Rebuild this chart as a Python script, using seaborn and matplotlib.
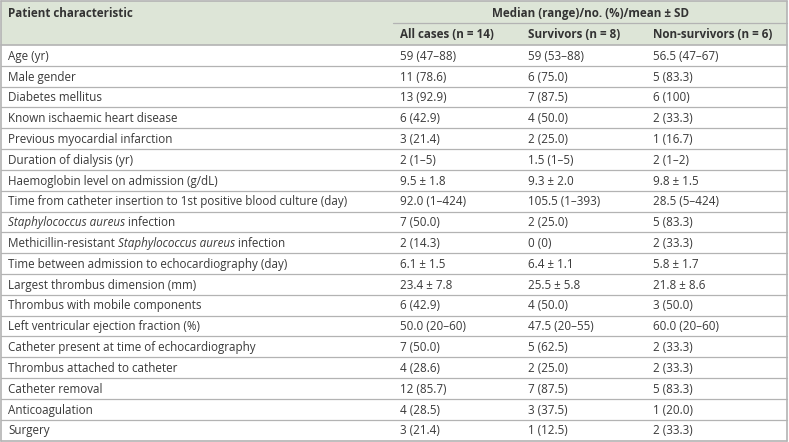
import matplotlib
matplotlib.use("Agg")
import matplotlib.pyplot as plt
import seaborn as sns
from matplotlib.patches import Rectangle

# ---------------- data ----------------
characteristics = [
    "Age (yr)",
    "Male gender",
    "Diabetes mellitus",
    "Known ischaemic heart disease",
    "Previous myocardial infarction",
    "Duration of dialysis (yr)",
    "Haemoglobin level on admission (g/dL)",
    "Time from catheter insertion to 1st positive blood culture (day)",
    "*Staphylococcus aureus* infection",
    "Methicillin-resistant *Staphylococcus aureus* infection",
    "Time between admission to echocardiography (day)",
    "Largest thrombus dimension (mm)",
    "Thrombus with mobile components",
    "Left ventricular ejection fraction (%)",
    "Catheter present at time of echocardiography",
    "Thrombus attached to catheter",
    "Catheter removal",
    "Anticoagulation",
    "Surgery",
]
all_cases = ["59 (47\u201388)", "11 (78.6)", "13 (92.9)", "6 (42.9)", "3 (21.4)",
             "2 (1\u20135)", "9.5 \u00b1 1.8", "92.0 (1\u2013424)", "7 (50.0)",
             "2 (14.3)", "6.1 \u00b1 1.5", "23.4 \u00b1 7.8", "6 (42.9)",
             "50.0 (20\u201360)", "7 (50.0)", "4 (28.6)", "12 (85.7)",
             "4 (28.5)", "3 (21.4)"]
survivors = ["59 (53\u201388)", "6 (75.0)", "7 (87.5)", "4 (50.0)", "2 (25.0)",
             "1.5 (1\u20135)", "9.3 \u00b1 2.0", "105.5 (1\u2013393)", "2 (25.0)",
             "0 (0)", "6.4 \u00b1 1.1", "25.5 \u00b1 5.8", "4 (50.0)",
             "47.5 (20\u201355)", "5 (62.5)", "2 (25.0)", "7 (87.5)",
             "3 (37.5)", "1 (12.5)"]
non_survivors = ["56.5 (47\u201367)", "5 (83.3)", "6 (100)", "2 (33.3)", "1 (16.7)",
                 "2 (1\u20132)", "9.8 \u00b1 1.5", "28.5 (5\u2013424)", "5 (83.3)",
                 "2 (33.3)", "5.8 \u00b1 1.7", "21.8 \u00b1 8.6", "3 (50.0)",
                 "60.0 (20\u201360)", "2 (33.3)", "2 (33.3)", "5 (83.3)",
                 "1 (20.0)", "2 (33.3)"]
first_header = "Patient characteristic"
group_header = "Median (range)/no. (%)/mean \u00b1 SD"
column_headers = ["All cases (n = 14)", "Survivors (n = 8)", "Non-survivors (n = 6)"]

# ---------------- style ----------------
sns.set_theme(style="white")
FONT = ["Open Sans", "DejaVu Sans"]
plt.rcParams["font.family"] = FONT

W, H = 789, 442
fig = plt.figure(figsize=(W / 100, H / 100), dpi=100)
ax = fig.add_axes([0, 0, 1, 1])
ax.set_xlim(0, W)
ax.set_ylim(H, 0)
ax.axis("off")

header_bg = "#dde5d7"
line_col = "#b3b3b3"
text_col = "#3a3a3a"
head_col = "#333333"
fs = 8.4

left, right = 1, 787.5
top, head_bottom, bottom = 1, 45, 440.5
col_x = [8, 400, 528, 653]
sub_line_x = 393

# header band
ax.add_patch(Rectangle((left, top), right - left, head_bottom - top,
                       facecolor=header_bg, edgecolor="none", zorder=0))
ax.text(col_x[0], 13.5, first_header, fontsize=fs, fontweight="bold",
        color=head_col, va="center", ha="left")
ax.text((col_x[1] + right) / 2 - 3, 13.5, group_header, fontsize=fs,
        fontweight="bold", color=head_col, va="center", ha="center")
ax.plot([sub_line_x, right], [22.5, 22.5], color=line_col, lw=0.9)
for x, h in zip(col_x[1:], column_headers):
    ax.text(x, 34, h, fontsize=fs, fontweight="bold", color=head_col,
            va="center", ha="left")

# body rows
n = len(characteristics)
row_h = (bottom - head_bottom) / n
fig.canvas.draw()
renderer = fig.canvas.get_renderer()
inv = ax.transData.inverted()

for i, (c, a, s, ns) in enumerate(zip(characteristics, all_cases, survivors, non_survivors)):
    yc = head_bottom + row_h * (i + 0.5) + 0.8
    # first column with italic segments
    x = col_x[0]
    parts = c.split("*")
    for k, p in enumerate(parts):
        if not p:
            continue
        t = ax.text(x, yc, p, fontsize=fs, color=text_col, va="center",
                    ha="left", style="italic" if k % 2 == 1 else "normal")
        bb = t.get_window_extent(renderer)
        x = inv.transform((bb.x1, bb.y1))[0]
    for xx, v in zip(col_x[1:], (a, s, ns)):
        ax.text(xx, yc, v, fontsize=fs, color=text_col, va="center", ha="left")
    if i < n - 1:
        yl = head_bottom + row_h * (i + 1)
        ax.plot([left, right], [yl, yl], color=line_col, lw=0.9)

# frame lines
ax.plot([left, right], [top, top], color=line_col, lw=1.2)
ax.plot([left, right], [head_bottom, head_bottom], color=line_col, lw=1.2)
ax.plot([left, right], [bottom, bottom], color=line_col, lw=1.2)
ax.plot([left, left], [top, bottom], color=line_col, lw=1.2)
ax.plot([right, right], [top, bottom], color=line_col, lw=1.2)

fig.savefig("out.png", dpi=100, facecolor="white")
